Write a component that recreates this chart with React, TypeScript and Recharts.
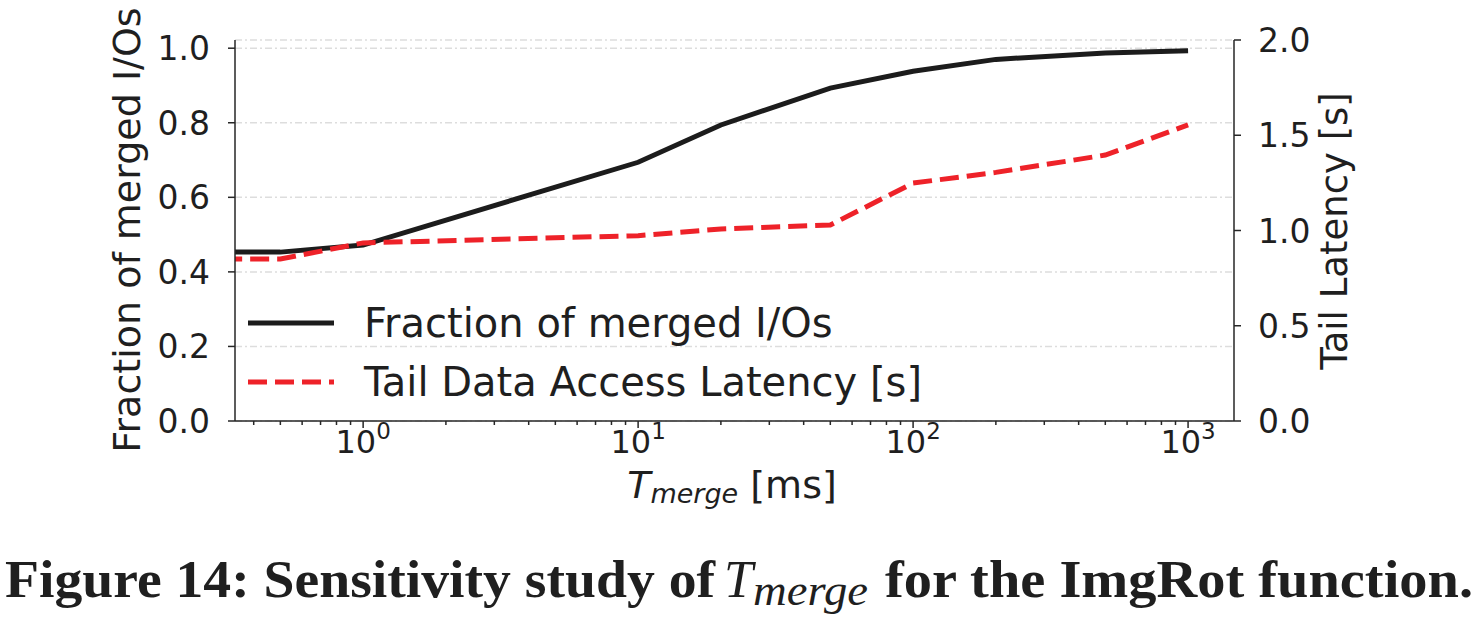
import { LineChart, Line, XAxis, YAxis, CartesianGrid } from "recharts";

// T_merge values in ms (first one sits left of the visible range)
const tMerge = [0.1, 0.5, 1, 10, 20, 50, 100, 200, 500, 1000];
const mergedFraction = [0.453, 0.453, 0.472, 0.694, 0.794, 0.893, 0.938, 0.97, 0.987, 0.993];
const tailLatency = [0.85, 0.85, 0.935, 0.973, 1.008, 1.029, 1.249, 1.305, 1.396, 1.554];

const majorXTicks = [1, 10, 100, 1000];
const minorXTicks = [
  0.4, 0.5, 0.6, 0.7, 0.8, 0.9, 2, 3, 4, 5, 6, 7, 8, 9, 20, 30, 40, 50, 60, 70, 80, 90, 200, 300, 400, 500,
  600, 700, 800, 900,
];
const leftTicks = [0, 0.2, 0.4, 0.6, 0.8, 1.0];
const rightTicks = [0, 0.5, 1.0, 1.5, 2.0];

const seriesNames = ["Fraction of merged I/Os", "Tail Data Access Latency [s]"];

const rows = tMerge.map((t, i) => ({ t, merged: mergedFraction[i], latency: tailLatency[i] }));
const xTicks = [...minorXTicks, ...majorXTicks].sort((a, b) => a - b);

const FONT = "'DejaVu Sans', sans-serif";
const SERIF = "'Liberation Serif', serif";
const INK = "#1f1f1f";
const AXIS = "#262626";
const BLACK = "#1c1c1c";
const RED = "#ee2229";

function XTick(props: any) {
  const { x, y, payload } = props;
  const v = payload.value;
  const major = majorXTicks.includes(v);
  return (
    <g>
      <line x1={x} x2={x} y1={y} y2={y + (major ? 7 : 4)} stroke={AXIS} strokeWidth={1.5} />
      {major && (
        <text x={x} y={y + 32} textAnchor="middle" fontFamily={FONT} fontSize={32} fill={INK}>
          10
          <tspan dy={-14} fontSize={23}>
            {Math.round(Math.log10(v))}
          </tspan>
        </text>
      )}
    </g>
  );
}

function LeftTick(props: any) {
  const { x, y, payload } = props;
  return (
    <g>
      <line x1={x - 7} x2={x} y1={y} y2={y} stroke={AXIS} strokeWidth={1.5} />
      <text x={x - 25} y={y + 12} textAnchor="end" fontFamily={FONT} fontSize={33} fill={INK}>
        {payload.value.toFixed(1)}
      </text>
    </g>
  );
}

function RightTick(props: any) {
  const { x, y, payload } = props;
  return (
    <g>
      <line x1={x} x2={x + 7} y1={y} y2={y} stroke={AXIS} strokeWidth={1.5} />
      <text x={x + 24} y={y + 12} textAnchor="start" fontFamily={FONT} fontSize={33} fill={INK}>
        {payload.value.toFixed(1)}
      </text>
    </g>
  );
}

export default function App() {
  return (
    <div style={{ position: "absolute", left: 0, top: 0, width: 1477, height: 617, background: "#fff" }}>
      <LineChart width={1477} height={617} data={rows} margin={{ top: 40, right: 0, bottom: 0, left: 0 }}>
        <CartesianGrid
          yAxisId="left"
          vertical={false}
          stroke="#dddddd"
          strokeWidth={1.5}
          strokeDasharray="7 3 2 3"
        />
        <XAxis
          dataKey="t"
          type="number"
          scale="log"
          domain={[0.342, 1469]}
          allowDataOverflow
          ticks={xTicks}
          interval={0}
          tickLine={false}
          tickSize={0}
          tickMargin={0}
          height={196}
          axisLine={{ stroke: AXIS, strokeWidth: 1.5 }}
          tick={<XTick />}
        />
        <XAxis
          xAxisId="top"
          orientation="top"
          dataKey="t"
          type="number"
          scale="log"
          domain={[0.342, 1469]}
          allowDataOverflow
          tick={false}
          tickLine={false}
          height={0}
          axisLine={{ stroke: AXIS, strokeWidth: 1.5 }}
        />
        <YAxis
          yAxisId="left"
          domain={[0, 1.022]}
          allowDataOverflow
          ticks={leftTicks}
          interval={0}
          width={235}
          tickLine={false}
          tickSize={0}
          tickMargin={0}
          axisLine={{ stroke: AXIS, strokeWidth: 1.5 }}
          tick={<LeftTick />}
        />
        <YAxis
          yAxisId="right"
          orientation="right"
          domain={[0, 2]}
          allowDataOverflow
          ticks={rightTicks}
          interval={0}
          width={243}
          tickLine={false}
          tickSize={0}
          tickMargin={0}
          axisLine={{ stroke: AXIS, strokeWidth: 1.5 }}
          tick={<RightTick />}
        />
        <Line
          yAxisId="left"
          type="linear"
          dataKey="merged"
          name={seriesNames[0]}
          stroke={BLACK}
          strokeWidth={5}
          dot={false}
          isAnimationActive={false}
        />
        <Line
          yAxisId="right"
          type="linear"
          dataKey="latency"
          name={seriesNames[1]}
          stroke={RED}
          strokeWidth={5}
          strokeDasharray="19 8"
          dot={false}
          isAnimationActive={false}
        />
      </LineChart>

      <svg
        width={1477}
        height={617}
        style={{ position: "absolute", left: 0, top: 0, pointerEvents: "none" }}
      >
        {/* legend */}
        <line x1={248} x2={334} y1={323} y2={323} stroke={BLACK} strokeWidth={5} />
        <text x={364} y={337} fontFamily={FONT} fontSize={40} fill={INK}>
          {seriesNames[0]}
        </text>
        <line x1={248} x2={334} y1={382} y2={382} stroke={RED} strokeWidth={5} strokeDasharray="19 8" />
        <text x={364} y={396} fontFamily={FONT} fontSize={40} fill={INK}>
          {seriesNames[1]}
        </text>

        {/* axis titles */}
        <text
          x={140}
          y={230}
          transform="rotate(-90 140 230)"
          textAnchor="middle"
          fontFamily={FONT}
          fontSize={38}
          fill={INK}
        >
          Fraction of merged I/Os
        </text>
        <text
          x={1347}
          y={231}
          transform="rotate(-90 1347 231)"
          textAnchor="middle"
          fontFamily={FONT}
          fontSize={37}
          fill={INK}
        >
          Tail Latency [s]
        </text>
        <text x={732} y={498} textAnchor="middle" fontFamily={FONT} fontSize={38} fill={INK}>
          <tspan fontStyle="italic">T</tspan>
          <tspan fontStyle="italic" fontSize={27} dy={5}>
            merge
          </tspan>
          <tspan dy={-5}> [ms]</tspan>
        </text>

        {/* caption, in pieces so the italic symbol keeps its place */}
        <text
          x={5}
          y={597}
          textLength={710}
          lengthAdjust="spacingAndGlyphs"
          fontFamily={SERIF}
          fontWeight="bold"
          fontSize={52}
          fill={INK}
        >
          Figure 14: Sensitivity study of
        </text>
        <text x={724} y={597} fontFamily={SERIF} fontStyle="italic" fontSize={52} fill={INK}>
          T
        </text>
        <text
          x={753}
          y={605}
          textLength={115}
          lengthAdjust="spacingAndGlyphs"
          fontFamily={SERIF}
          fontStyle="italic"
          fontSize={44}
          fill={INK}
        >
          merge
        </text>
        <text
          x={885}
          y={597}
          textLength={588}
          lengthAdjust="spacingAndGlyphs"
          fontFamily={SERIF}
          fontWeight="bold"
          fontSize={52}
          fill={INK}
        >
          for the ImgRot function.
        </text>
      </svg>
    </div>
  );
}
